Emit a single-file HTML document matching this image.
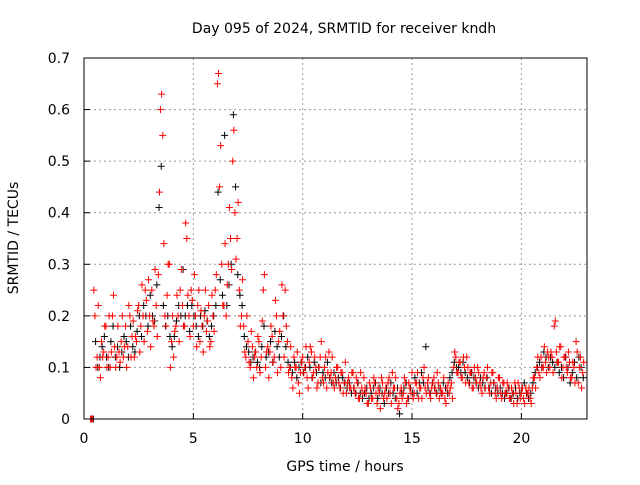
<!DOCTYPE html>
<html><head><meta charset="utf-8"><style>
body{margin:0;background:#fff}
svg text{font-family:"DejaVu Sans","Liberation Sans",sans-serif;font-size:14px;fill:#000}
</style></head><body>
<svg id="c" width="640" height="480">
<text x="344" y="33" text-anchor="middle">Day 095 of 2024, SRMTID for receiver kndh</text>
<text transform="translate(18,238) rotate(-90)" text-anchor="middle">SRMTID / TECUs</text>
<text x="345" y="471" text-anchor="middle">GPS time / hours</text>
<g id="grid"></g><g id="marks"></g>
<rect x="84" y="58" width="503" height="361" fill="none" stroke="#000" stroke-width="1"/>
</svg>
<script>
const xTicks=[0,5,10,15,20];
const yTicks=[0,0.1,0.2,0.3,0.4,0.5,0.6,0.7];
const yTickLabels=["0","0.1","0.2","0.3","0.4","0.5","0.6","0.7"];
const tStart=0.3, tStep=0.1;
const redValues=[0,0,0.2,0.12,0.1,0.15,0.13,0.18,0.12,0.1,
0.2,0.14,0.12,0.13,0.15,0.12,0.18,0.14,0.2,0.16,
0.12,0.15,0.22,0.18,0.2,0.25,0.17,0.2,0.25,0.18,
0.22,0.28,0.6,0.55,0.2,0.24,0.3,0.15,0.12,0.18,
0.2,0.25,0.22,0.18,0.35,0.2,0.25,0.18,0.2,0.22,
0.15,0.18,0.2,0.17,0.22,0.15,0.2,0.25,0.65,0.45,
0.3,0.22,0.2,0.3,0.35,0.5,0.4,0.35,0.25,0.2,
0.18,0.12,0.15,0.1,0.14,0.12,0.1,0.15,0.12,0.25,
0.1,0.14,0.13,0.16,0.12,0.2,0.15,0.1,0.2,0.25,
0.15,0.1,0.08,0.12,0.1,0.07,0.09,0.12,0.1,0.08,
0.11,0.13,0.09,0.1,0.07,0.12,0.08,0.1,0.06,0.13,
0.09,0.07,0.08,0.1,0.06,0.09,0.07,0.05,0.08,0.06,
0.09,0.05,0.07,0.04,0.06,0.08,0.05,0.03,0.06,0.04,
0.07,0.03,0.05,0.08,0.04,0.06,0.07,0.05,0.09,0.06,
0.04,0.03,0.06,0.05,0.07,0.04,0.06,0.09,0.05,0.07,
0.04,0.06,0.08,0.06,0.07,0.05,0.06,0.08,0.05,0.07,
0.06,0.05,0.04,0.06,0.05,0.07,0.1,0.12,0.09,0.11,
0.08,0.1,0.12,0.07,0.09,0.06,0.08,0.1,0.07,0.05,
0.09,0.08,0.06,0.07,0.09,0.05,0.06,0.08,0.04,0.07,
0.05,0.06,0.04,0.05,0.07,0.03,0.06,0.05,0.04,0.06,
0.05,0.04,0.06,0.08,0.1,0.09,0.12,0.1,0.11,0.13,
0.1,0.12,0.18,0.13,0.11,0.14,0.1,0.12,0.09,0.11,
0.08,0.1,0.15,0.07,0.12,0.09];
const redValues2=[0,0.25,0.1,0.22,0.08,0.12,0.18,0.1,0.2,0.13,
0.24,0.1,0.18,0.11,0.2,0.14,0.1,0.22,0.12,0.19,
0.16,0.21,0.13,0.26,0.15,0.23,0.27,0.14,0.19,0.29,
0.16,0.44,0.63,0.34,0.18,0.3,0.1,0.2,0.17,0.24,
0.15,0.29,0.18,0.38,0.24,0.16,0.23,0.28,0.14,0.25,
0.21,0.13,0.25,0.19,0.14,0.24,0.17,0.28,0.67,0.53,
0.22,0.34,0.26,0.41,0.29,0.56,0.31,0.42,0.18,0.27,
0.13,0.2,0.11,0.17,0.08,0.13,0.16,0.09,0.19,0.28,
0.13,0.08,0.18,0.11,0.23,0.09,0.17,0.26,0.12,0.18,
0.09,0.14,0.06,0.1,0.13,0.05,0.11,0.09,0.14,0.06,
0.14,0.08,0.12,0.06,0.1,0.15,0.07,0.12,0.09,0.08,
0.12,0.06,0.1,0.07,0.09,0.05,0.11,0.07,0.06,0.09,
0.06,0.08,0.04,0.09,0.05,0.06,0.03,0.07,0.04,0.08,
0.05,0.06,0.02,0.07,0.05,0.04,0.08,0.03,0.06,0.08,
0.02,0.05,0.04,0.08,0.03,0.07,0.05,0.04,0.07,0.09,
0.06,0.04,0.1,0.05,0.08,0.04,0.07,0.06,0.09,0.04,
0.05,0.08,0.03,0.07,0.06,0.04,0.13,0.09,0.11,0.08,
0.12,0.07,0.1,0.09,0.06,0.1,0.07,0.09,0.06,0.08,
0.06,0.1,0.05,0.09,0.07,0.04,0.08,0.05,0.07,0.05,
0.07,0.04,0.06,0.03,0.05,0.07,0.04,0.06,0.03,0.05,
0.06,0.03,0.08,0.06,0.12,0.08,0.1,0.14,0.09,0.12,
0.13,0.09,0.19,0.11,0.14,0.08,0.12,0.1,0.13,0.08,
0.11,0.07,0.13,0.1,0.06,0.11];
const blackValues=[0,0,0.15,0.1,0.12,0.14,0.16,0.12,0.1,0.15,
0.18,0.12,0.14,0.1,0.13,0.16,0.15,0.12,0.18,0.14,
0.13,0.17,0.2,0.16,0.22,0.2,0.18,0.24,0.2,0.19,
0.26,0.41,0.49,0.22,0.18,0.2,0.16,0.14,0.16,0.19,
0.22,0.2,0.29,0.2,0.22,0.17,0.22,0.2,0.18,0.16,
0.2,0.18,0.21,0.19,0.16,0.18,0.2,0.22,0.44,0.27,
0.24,0.55,0.22,0.26,0.3,0.59,0.45,0.28,0.24,0.22,
0.16,0.14,0.13,0.11,0.12,0.13,0.11,0.1,0.14,0.18,
0.12,0.13,0.15,0.11,0.17,0.14,0.12,0.16,0.2,0.14,
0.11,0.1,0.09,0.11,0.08,0.1,0.11,0.09,0.1,0.12,
0.1,0.08,0.11,0.09,0.1,0.07,0.09,0.08,0.11,0.08,
0.07,0.09,0.07,0.08,0.06,0.08,0.07,0.06,0.07,0.05,
0.06,0.05,0.07,0.05,0.04,0.05,0.06,0.04,0.05,0.06,
0.07,0.04,0.06,0.05,0.03,0.06,0.05,0.07,0.05,0.04,
0.06,0.01,0.05,0.06,0.07,0.04,0.06,0.05,0.08,0.05,
0.07,0.09,0.07,0.14,0.06,0.05,0.07,0.06,0.05,0.06,
0.05,0.07,0.06,0.05,0.08,0.09,0.11,0.1,0.1,0.09,
0.11,0.09,0.08,0.07,0.09,0.08,0.07,0.06,0.08,0.07,
0.06,0.08,0.06,0.05,0.07,0.06,0.05,0.06,0.05,0.04,
0.05,0.06,0.04,0.05,0.06,0.04,0.05,0.06,0.07,0.05,
0.04,0.05,0.07,0.09,0.1,0.11,0.1,0.13,0.12,0.1,
0.12,0.11,0.1,0.11,0.09,0.1,0.08,0.12,0.1,0.07,
0.09,0.11,0.08,0.12,0.1,0.08];
const L=84,R=587,T=58,B=419,xMin=0,xMax=23,yMin=0,yMax=0.7;
const X=v=>L+(v-xMin)/(xMax-xMin)*(R-L);
const Y=v=>B-(v-yMin)/(yMax-yMin)*(B-T);
const NS="http://www.w3.org/2000/svg";
const grid=document.getElementById('grid'),marks=document.getElementById('marks');
function mk(tag,attrs,parent){const e=document.createElementNS(NS,tag);for(const k in attrs)e.setAttribute(k,attrs[k]);parent.appendChild(e);return e;}
xTicks.forEach(v=>{
 const x=X(v);
 if(v>xMin){const g=mk('line',{x1:x,x2:x,y1:T,y2:B,stroke:'#999','stroke-dasharray':'2,3'},grid);
 
 }
 const tk=mk('line',{x1:x,x2:x,y1:B,y2:B-6,stroke:'#000'},grid);
 
 
 const t=mk('text',{x:x,y:B+24,'text-anchor':'middle'},grid);t.textContent=v;
 
 
});
yTicks.forEach((v,i)=>{
 const y=Y(v);
 if(v>yMin&&v<yMax){const g=mk('line',{x1:L,x2:R,y1:y,y2:y,stroke:'#999','stroke-dasharray':'2,3'},grid);
 
 }
 const tk=mk('line',{x1:L,x2:L+6,y1:y,y2:y,stroke:'#000'},grid);
 
 
 const t=mk('text',{x:L-14,y:y+5,'text-anchor':'end'},grid);t.textContent=yTickLabels[i];
 
 
});
function plus(v,t,col,name){
 const x=X(t),y=Y(v);
 const p=mk('path',{d:`M${x-3.5},${y}H${x+3.5}M${x},${y-3.5}V${y+3.5}`,stroke:col,'stroke-width':1,fill:'none'},marks);
 
 
}
blackValues.forEach((v,i)=>plus(v,tStart+i*tStep+0.03,'#000','black-point'));
redValues.forEach((v,i)=>plus(v,tStart+i*tStep,'#f00','red-point'));
redValues2.forEach((v,i)=>plus(v,tStart+i*tStep+0.05,'#f00','red-point'));
</script>
</body></html>
